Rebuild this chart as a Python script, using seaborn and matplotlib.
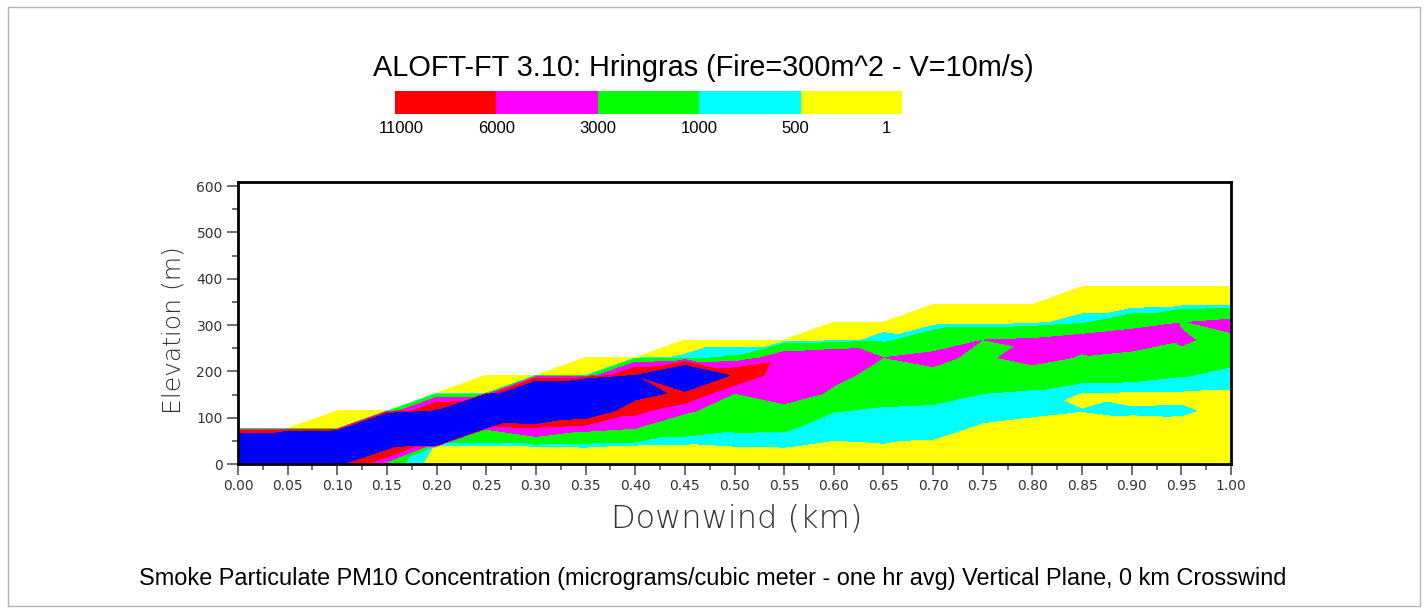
import numpy as np
import matplotlib
matplotlib.use("Agg")
import matplotlib.pyplot as plt
import matplotlib.tri as mtri
from matplotlib.colors import ListedColormap
from matplotlib.patches import Rectangle
import seaborn as sns

sns.set_theme(style="ticks")
plt.rcParams['font.family'] = ['Liberation Sans', 'DejaVu Sans']

# ------------------------------------------------------------------ data
title = "ALOFT-FT 3.10: Hringras (Fire=300m^2 - V=10m/s)"
caption = ("Smoke Particulate PM10 Concentration (micrograms/cubic meter - one hr avg) "
           "Vertical Plane, 0 km Crosswind")

downwind_km = [0.00, 0.05, 0.10, 0.15, 0.20, 0.25, 0.30, 0.35, 0.40, 0.45, 0.50,
               0.55, 0.60, 0.65, 0.70, 0.75, 0.80, 0.85, 0.90, 0.95, 1.00]
elevation_m = [0.0, 38.25, 76.5, 114.75, 153.0, 191.25, 229.5, 267.75, 306.0, 344.25, 382.5]

# concentration (micrograms/m3) at each elevation row, one list per downwind column
conc_x000 = [40000, 43000, 300, 0, 0, 0, 0, 0, 0, 0, 0]
conc_x005 = [50000, 73500, 300, 0, 0, 0, 0, 0, 0, 0, 0]
conc_x010 = [12000, 88400, 450, 100, 0, 0, 0, 0, 0, 0, 0]
conc_x015 = [1500, 13000, 76800, 200, 0, 0, 0, 0, 0, 0, 0]
conc_x020 = [100, 400, 150000, 11620, 300, 0, 0, 0, 0, 0, 0]
conc_x025 = [150, 300, 3200, 160000, 450, 50, 0, 0, 0, 0, 0]
conc_x030 = [150, 480, 5000, 26000, 32900, 400, 0, 0, 0, 0, 0]
conc_x035 = [150, 520, 3450, 16660, 54100, 490, 30, 0, 0, 0, 0]
conc_x040 = [150, 380, 2950, 7000, 13500, 10990, 300, 0, 0, 0, 0]
conc_x045 = [200, 390, 1450, 3300, 9500, 24500, 600, 30, 0, 0, 0]
conc_x050 = [250, 495, 1123, 2000, 3000, 9500, 1150, 5, 0, 0, 0]
conc_x055 = [300, 510, 1105, 2000, 4500, 3500, 4600, 5, 0, 0, 0]
conc_x060 = [300, 450, 600, 1030, 2600, 3600, 5400, 300, 30, 0, 0]
conc_x065 = [300, 470, 650, 900, 1300, 2200, 2990, 649, 298, 0, 0]
conc_x070 = [300, 460, 560, 850, 1266, 2527, 3477, 2062, 150, 10, 0]
conc_x075 = [300, 400, 470, 560, 1010, 1800, 2523, 2990, 100, 10, 0]
conc_x080 = [300, 380, 440, 530, 900, 1420, 4070, 3250, 307, 10, 0]
conc_x085 = [250, 350, 450, 502, 480, 1374, 2705, 4017, 834, 124, 10]
conc_x090 = [250, 350, 430, 520, 430, 1321, 1825, 4930, 1750, 156, 10]
conc_x095 = [250, 350, 420, 530, 439, 1050, 2690, 3155, 2900, 300, 10]
conc_x100 = [250, 320, 380, 430, 418, 809, 1199, 2600, 3566, 400, 10]

conc_columns = [conc_x000, conc_x005, conc_x010, conc_x015, conc_x020, conc_x025,
                conc_x030, conc_x035, conc_x040, conc_x045, conc_x050, conc_x055,
                conc_x060, conc_x065, conc_x070, conc_x075, conc_x080, conc_x085,
                conc_x090, conc_x095, conc_x100]

band_levels = [1, 500, 1000, 3000, 6000, 11000]
band_colors = ['#ffff00', '#00ffff', '#00ff00', '#ff00ff', '#ff0000', '#0000ff']
legend_labels = ['11000', '6000', '3000', '1000', '500', '1']
legend_colors = ['#ff0000', '#ff00ff', '#00ff00', '#00ffff', '#ffff00']

x_ticks = [round(0.05 * i, 2) for i in range(21)]
y_ticks = [0, 100, 200, 300, 400, 500, 600]

# ------------------------------------------------------------------ grid / triangulation
nx, ny = len(downwind_km), len(elevation_m)
px, py, pz = [], [], []
for i in range(nx):
    for k in range(ny):
        px.append(downwind_km[i])
        py.append(elevation_m[k])
        pz.append(conc_columns[i][k])
pz = np.array(pz, dtype=float)


def nid(i, k):
    return i * ny + k


triangles = []
for i in range(nx - 1):
    for k in range(ny - 1):
        a, b, c, d = nid(i, k), nid(i + 1, k), nid(i + 1, k + 1), nid(i, k + 1)
        vals = [pz[a], pz[b], pz[c], pz[d]]
        zeros = [v <= 0 for v in vals]
        nz = sum(zeros)
        if nz == 0:
            la, lb, lc, ld = np.log10(vals)
            if abs(la - lc) <= abs(ld - lb):
                triangles += [[a, b, c], [a, c, d]]
            else:
                triangles += [[a, b, d], [b, c, d]]
        elif nz == 1:
            if zeros[3]:
                triangles.append([a, b, c])
            elif zeros[2]:
                triangles.append([a, b, d])
            elif zeros[1]:
                triangles.append([a, c, d])
            else:
                triangles.append([b, c, d])

tri = mtri.Triangulation(np.array(px), np.array(py), np.array(triangles))

# ------------------------------------------------------------------ figure
W, H = 1427, 613
fig = plt.figure(figsize=(W / 100, H / 100), dpi=100)
fig.patch.set_facecolor('white')

ax_l, ax_r, ax_t, ax_b = 238, 1231, 181.5, 464
ax = fig.add_axes([ax_l / W, 1 - ax_b / H, (ax_r - ax_l) / W, (ax_b - ax_t) / H])
ax.set_facecolor('white')
ax.tricontourf(tri, pz, levels=band_levels + [1e7], colors=band_colors,
               antialiased=False)
ax.set_xlim(0, 1.0)
ax.set_ylim(0, 610)

ax.set_xticks(x_ticks)
ax.set_xticklabels([f"{v:.2f}" for v in x_ticks])
ax.set_xticks([0.025 + 0.05 * i for i in range(20)], minor=True)
ax.set_yticks(y_ticks)
ax.set_yticklabels([str(v) for v in y_ticks])
ax.set_yticks([50 + 100 * i for i in range(6)], minor=True)
ax.tick_params(axis='both', which='major', direction='out', length=8, width=1.2,
               color='#555555', labelsize=10, labelcolor='#333333', pad=3,
               bottom=True, left=True, top=False, right=False)
ax.tick_params(axis='both', which='minor', direction='out', length=4.5, width=1.2,
               color='#555555', bottom=True, left=True, top=False, right=False)
for lab in ax.get_xticklabels() + ax.get_yticklabels():
    lab.set_family('DejaVu Sans')
for s in ax.spines.values():
    s.set_linewidth(2.0)
    s.set_color('black')
    s.set_visible(True)

fig.text(737 / W, 1 - 528 / H, "Downwind (km)", ha='center', va='baseline',
         fontsize=23, family='DejaVu Sans', fontweight='light', color='#333333')
fig.text(173 / W, 1 - 330 / H, "Elevation (m)", ha='center', va='center', rotation=90,
         fontsize=18, family='DejaVu Sans', fontweight='light', color='#333333')

fig.text(703.5 / W, 1 - 76 / H, title, ha='center', va='baseline', fontsize=20.8,
         color='black')
fig.text(713 / W, 1 - 585 / H, caption, ha='center', va='baseline', fontsize=16.9,
         color='black')

# legend bar
lg_l, lg_r, lg_t, lg_b = 395, 902, 91, 114
lax = fig.add_axes([lg_l / W, 1 - lg_b / H, (lg_r - lg_l) / W, (lg_b - lg_t) / H])
sns.heatmap(np.arange(len(legend_colors)).reshape(1, -1), cmap=ListedColormap(legend_colors),
            cbar=False, ax=lax, xticklabels=False, yticklabels=False, linewidths=0)
lax.set_axis_off()
label_pos = [0.06, 1.0, 2.0, 3.0, 3.95, 4.85]
cell_w = (lg_r - lg_l) / len(legend_colors)
for lab, p in zip(legend_labels, label_pos):
    fig.text((lg_l + p * cell_w) / W, 1 - 133 / H, lab, ha='center', va='baseline',
             fontsize=12, color='black')

fig.patches.append(Rectangle((8 / W, 7 / H), (1420 - 8) / W, (606 - 7) / H,
                             transform=fig.transFigure, fill=False,
                             edgecolor='#b4b4b4', linewidth=1))

fig.savefig('out.png', dpi=100, facecolor='white')
